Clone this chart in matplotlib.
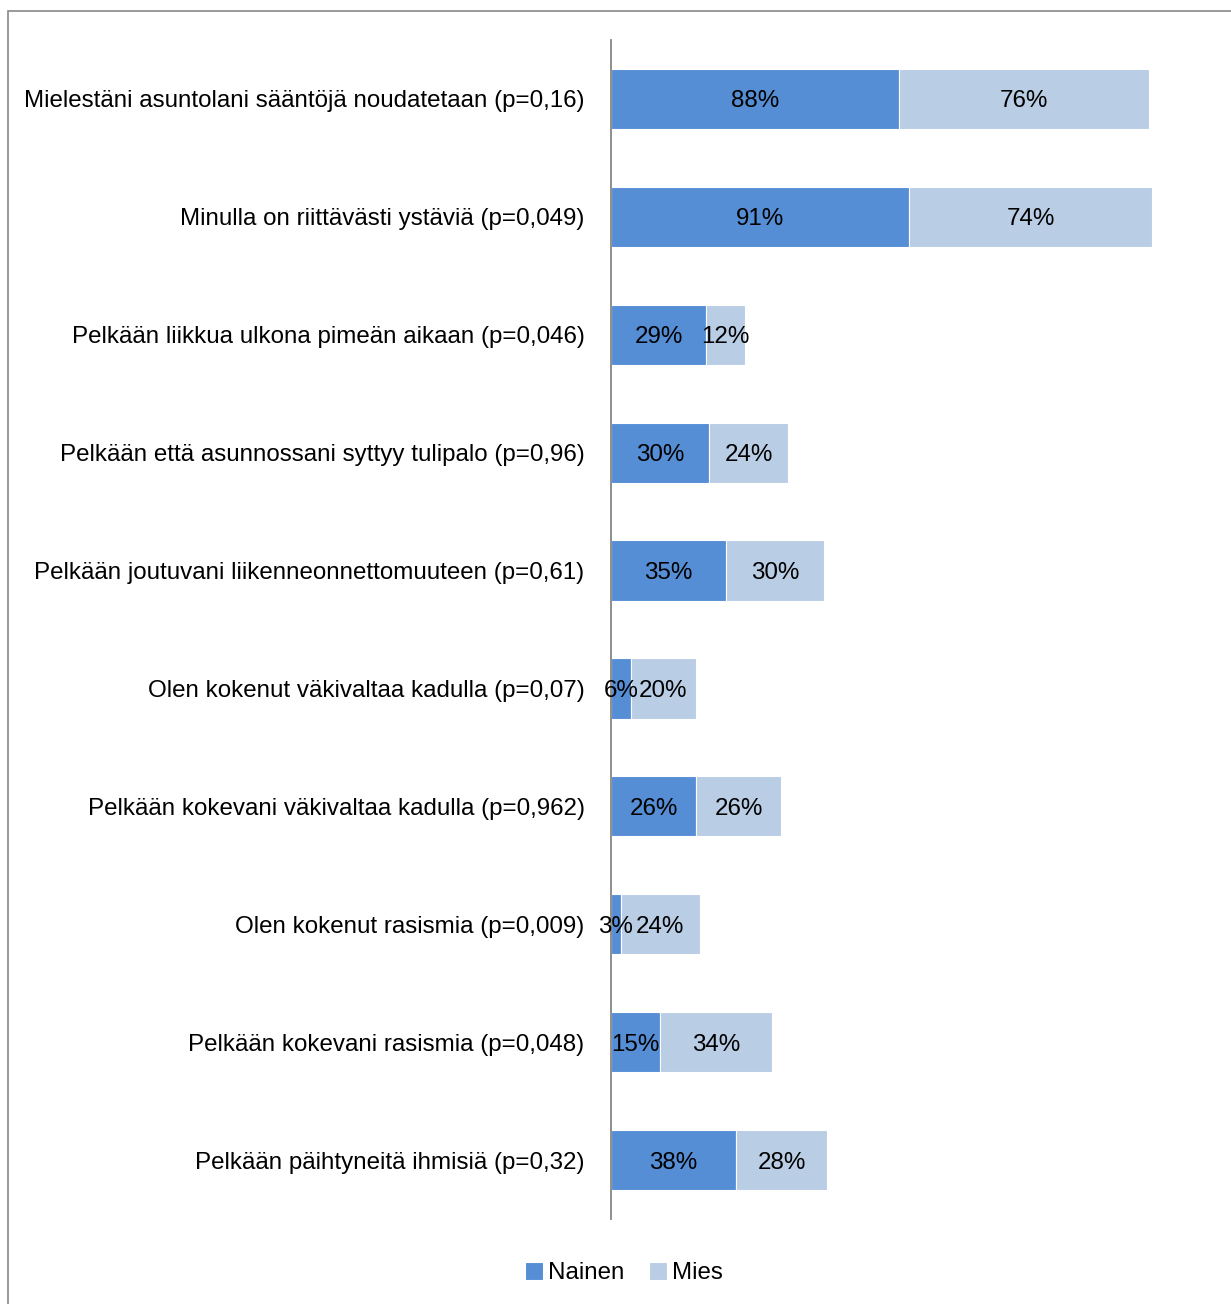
import matplotlib.pyplot as plt
from matplotlib.patches import Rectangle
import numpy as np

plt.rcParams.update({
    "font.family": ["Liberation Sans Narrow", "Liberation Sans", "DejaVu Sans"],
    "font.size": 17.4,
})

categories = [
    "Mielestäni asuntolani sääntöjä noudatetaan (p=0,16)",
    "Minulla on riittävästi ystäviä (p=0,049)",
    "Pelkään liikkua ulkona pimeän aikaan (p=0,046)",
    "Pelkään että asunnossani syttyy tulipalo (p=0,96)",
    "Pelkään joutuvani liikenneonnettomuuteen (p=0,61)",
    "Olen kokenut väkivaltaa kadulla (p=0,07)",
    "Pelkään kokevani väkivaltaa kadulla (p=0,962)",
    "Olen kokenut rasismia (p=0,009)",
    "Pelkään kokevani rasismia (p=0,048)",
    "Pelkään päihtyneitä ihmisiä (p=0,32)",
]
nainen = [88, 91, 29, 30, 35, 6, 26, 3, 15, 38]
mies = [76, 74, 12, 24, 30, 20, 26, 24, 34, 28]

c_nainen = "#558ed5"
c_mies = "#b9cde5"

fig = plt.figure(figsize=(12.31, 13.04), dpi=100)
ax = fig.add_axes([611 / 1231, 1 - 1219 / 1304, 590 / 1231, 1179 / 1304])

y = np.arange(len(categories))
h = 0.51
b1 = ax.barh(y, nainen, height=h, color=c_nainen, edgecolor="white", linewidth=0.8, label="Nainen")
b2 = ax.barh(y, mies, left=nainen, height=h, color=c_mies, edgecolor="white", linewidth=0.8, label="Mies")

# value labels in the middle of each segment
for yi, n, m in zip(y, nainen, mies):
    ax.text(n / 2, yi, f"{n}%", ha="center", va="center_baseline")
    ax.text(n + m / 2, yi, f"{m}%", ha="center", va="center_baseline")

ax.set_xlim(0, 180)
ax.set_ylim(len(categories) - 0.5, -0.5)
ax.set_yticks(y)
ax.set_yticklabels(categories)
ax.tick_params(axis="y", length=0, pad=19)
ax.set_xticks([])
for s in ("top", "right", "bottom"):
    ax.spines[s].set_visible(False)
ax.spines["left"].set_color("#868686")
ax.spines["left"].set_linewidth(1.3)

fig.legend(handles=[b1, b2], loc="center", ncol=2, frameon=False,
           bbox_to_anchor=(624 / 1231, 1 - 1273 / 1304),
           handlelength=0.75, handleheight=0.75, handletextpad=0.2, columnspacing=1.0)

fig.patches.append(Rectangle((8 / 1231, -0.01), 1.1, 1 - 11 / 1304 + 0.01,
                             transform=fig.transFigure, fill=False,
                             edgecolor="#888888", linewidth=1.2))

fig.savefig("out.png", dpi=100)
